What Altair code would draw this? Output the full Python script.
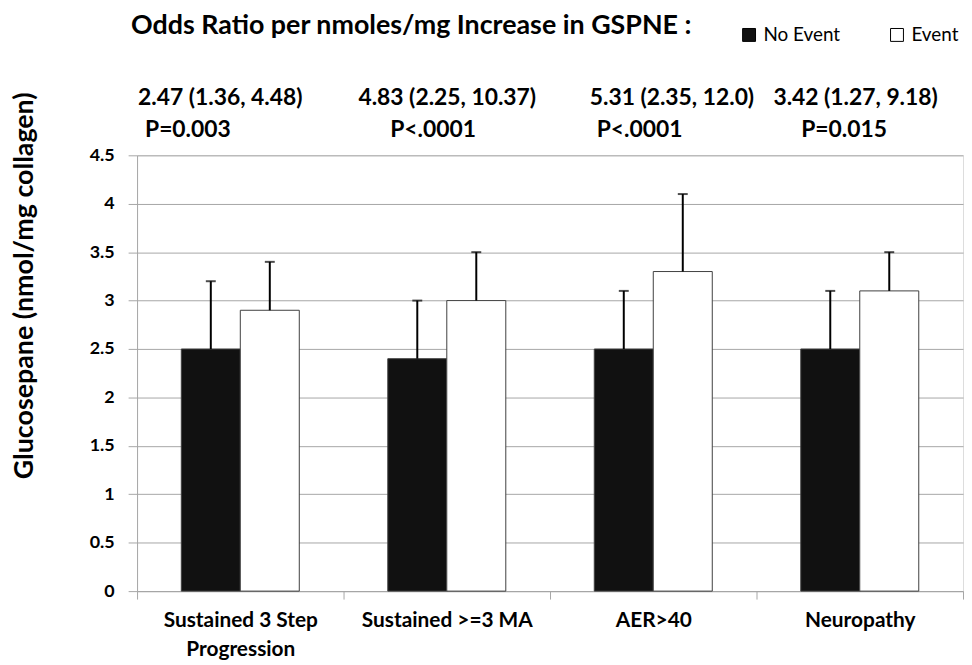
import altair as alt
import pandas as pd

categories = ["Sustained 3 Step Progression", "Sustained >=3 MA", "AER>40", "Neuropathy"]
groups = ["No Event", "Event"]
no_event_mean = [2.5, 2.4, 2.5, 2.5]
no_event_upper = [3.2, 3.0, 3.1, 3.1]
event_mean = [2.9, 3.0, 3.3, 3.1]
event_upper = [3.4, 3.5, 4.1, 3.5]
or_labels = ["2.47 (1.36, 4.48)", "4.83 (2.25, 10.37)", "5.31 (2.35, 12.0)", "3.42 (1.27, 9.18)"]
p_labels = ["P=0.003", "P<.0001", "P<.0001", "P=0.015"]
title_text = "Odds Ratio per nmoles/mg Increase in GSPNE :"

rows = []
for i, c in enumerate(categories):
    rows.append(dict(category=c, group="No Event", mean=no_event_mean[i], upper=no_event_upper[i]))
    rows.append(dict(category=c, group="Event", mean=event_mean[i], upper=event_upper[i]))
df = pd.DataFrame(rows)
ann = pd.DataFrame(dict(category=categories, or_label=or_labels, p_label=p_labels))
title_df = pd.DataFrame(dict(t=[title_text]))

FONT = "Lato"
GRID = "#a6a6a6"

# text placement styles (offsets from category start)
or_dx = [1, 15, 40, 17]
p_dx = [8, 47, 47, 45]

xenc = alt.X(
    "category:N",
    sort=categories,
    scale=alt.Scale(paddingInner=0, paddingOuter=0),
    axis=alt.Axis(
        title=None,
        tickBand="extent",
        labelAngle=0,
        labelFont=FONT,
        labelFontSize=21,
        labelFontWeight="bold",
        labelColor="#000",
        labelPadding=11,
        labelLineHeight=29,
        labelExpr="datum.label == 'Sustained 3 Step Progression' ? ['Sustained 3 Step', 'Progression'] : datum.label",
        tickSize=8,
        tickColor=GRID,
        domainColor=GRID,
        grid=False,
    ),
)
xoff = alt.XOffset("group:N", sort=groups, scale=alt.Scale(paddingOuter=0.75, paddingInner=0))
yscale = alt.Scale(domain=[0, 4.5])

base = alt.Chart(df)

bars = base.mark_bar(stroke="#404040", strokeWidth=1).encode(
    x=xenc,
    xOffset=xoff,
    y=alt.Y(
        "mean:Q",
        scale=yscale,
        axis=alt.Axis(
            values=[0, 0.5, 1, 1.5, 2, 2.5, 3, 3.5, 4, 4.5],
            format="~g",
            title="Glucosepane (nmol/mg collagen)",
            titleFont=FONT,
            titleFontSize=27,
            titleFontWeight="bold",
            titleColor="#000",
            titleX=-99,
            titleY=131,
            labelFont=FONT,
            labelFontSize=18,
            labelFontWeight="bold",
            labelColor="#000",
            labelPadding=14,
            tickSize=9,
            tickColor=GRID,
            domainColor=GRID,
            gridColor=GRID,
            gridWidth=1,
        ),
    ),
    color=alt.Color(
        "group:N",
        sort=groups,
        scale=alt.Scale(domain=groups, range=["#111111", "#ffffff"]),
        legend=alt.Legend(
            title=None,
            orient="none",
            legendX=607,
            legendY=-131,
            direction="horizontal",
            symbolType="square",
            symbolSize=169,
            symbolStrokeColor="#000",
            symbolStrokeWidth=1,
            symbolOpacity=1,
            labelFont=FONT,
            labelFontSize=19,
            labelColor="#000",
            labelOffset=5,
            columnPadding=47,
        ),
    ),
)

rules = base.mark_rule(color="#000", strokeWidth=2).encode(
    x=xenc, xOffset=xoff, y=alt.Y("mean:Q", scale=yscale), y2="upper:Q"
)
caps = base.mark_tick(color="#000", thickness=2, size=10, orient="horizontal").encode(
    x=xenc, xOffset=xoff, y=alt.Y("upper:Q", scale=yscale)
)

title_mark = alt.Chart(title_df).mark_text(
    align="left", baseline="middle", font=FONT, fontSize=27, fontWeight="bold", color="#000"
).encode(x=alt.value(-6), y=alt.value(-130), text="t:N")

layers = [bars, rules, caps, title_mark]
for i, c in enumerate(categories):
    sub = alt.Chart(ann).transform_filter(alt.datum.category == c)
    layers.append(
        sub.mark_text(align="left", baseline="middle", font=FONT, fontSize=23, fontWeight="bold", color="#000", dx=or_dx[i]).encode(
            x=alt.X("category:N", sort=categories, bandPosition=0), y=alt.value(-58), text="or_label:N"
        )
    )
    layers.append(
        sub.mark_text(align="left", baseline="middle", font=FONT, fontSize=23, fontWeight="bold", color="#000", dx=p_dx[i]).encode(
            x=alt.X("category:N", sort=categories, bandPosition=0), y=alt.value(-25), text="p_label:N"
        )
    )

chart = alt.layer(*layers).properties(
    width=832,
    height=439,
    padding={"left": 2, "top": 2, "right": 0, "bottom": 0},
).configure_view(stroke=None).configure(background="white")

chart.save("out.html", embed_options={"renderer": "svg", "actions": False})
